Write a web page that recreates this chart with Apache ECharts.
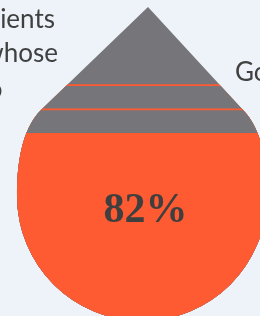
<!DOCTYPE html>
<html>
<head>
<meta charset="utf-8">
<script src="https://cdn.jsdelivr.net/npm/echarts@6/dist/echarts.min.js"></script>
<style>
html,body{margin:0;padding:0;background:#EDF3F9;}
#chart{width:260px;height:316px;}
</style>
</head>
<body>
<div id="chart"></div>
<script>
// Data
var categories = ['drop'];
var percentValue = 82;               // label value
var fillLevel = 59.9;                // top of the orange fill (0-100 of drop height)
var bandLevels = [75.4, 67.7];       // thin orange lines inside the grey part
var bandThickness = 0.55;
var sideTexts = ['ients', 'whose', 'o'];
var rightText = 'Go';

var dropPath = 'path://M131,0 L25,102 C3.8,122.4 0,159 0,189 A125,125 0 0 0 250,189 C250,159 246.2,122.4 225,102 Z';
var GREY = '#76767A', ORANGE = '#FF5B32';

function layer(value, color, z) {
  return {
    type: 'pictorialBar',
    data: [value],
    symbol: dropPath,
    symbolBoundingData: 100,
    symbolClip: true,
    symbolPosition: 'start',
    symbolSize: ['100%', '100%'],
    barWidth: 250,
    barGap: '-100%',
    itemStyle: { color: color },
    z: z,
    silent: true,
    animation: false
  };
}

var series = [layer(100, GREY, 1)];
var z = 2;
bandLevels.forEach(function (lv) {
  series.push(layer(lv, ORANGE, z++));
  series.push(layer(lv - bandThickness, GREY, z++));
});
series.push(layer(fillLevel, ORANGE, z++));

var chart = echarts.init(document.getElementById('chart'), null, { renderer: 'canvas' });
chart.setOption({
  backgroundColor: '#EDF3F9',
  animation: false,
  grid: { left: 17, top: 7, width: 250, height: 314, containLabel: false, outerBoundsMode: 'none' },
  xAxis: { type: 'category', data: categories, show: false },
  yAxis: { type: 'value', min: 0, max: 100, show: false },
  series: series,
  graphic: [
    { type: 'text', x: 55, y: 33, z: 100, style: { text: sideTexts[0], font: '26px Lato', fill: '#404040', textAlign: 'right', textVerticalAlign: 'bottom' } },
    { type: 'text', x: 58, y: 67, z: 100, style: { text: sideTexts[1], font: '26px Lato', fill: '#404040', textAlign: 'right', textVerticalAlign: 'bottom' } },
    { type: 'text', x: 2.5, y: 103, z: 100, style: { text: sideTexts[2], font: '26px Lato', fill: '#404040', textAlign: 'right', textVerticalAlign: 'bottom' } },
    { type: 'text', x: 235, y: 86, z: 100, style: { text: rightText, font: '26px Lato', fill: '#404040', textAlign: 'left', textVerticalAlign: 'bottom' } },
    { type: 'text', x: 145.5, y: 211, z: 100, style: { text: percentValue + '%', font: 'bold 42px "Liberation Serif"', fill: '#3F3F3F', textAlign: 'center', textVerticalAlign: 'middle' } }
  ]
});
</script>
</body>
</html>
